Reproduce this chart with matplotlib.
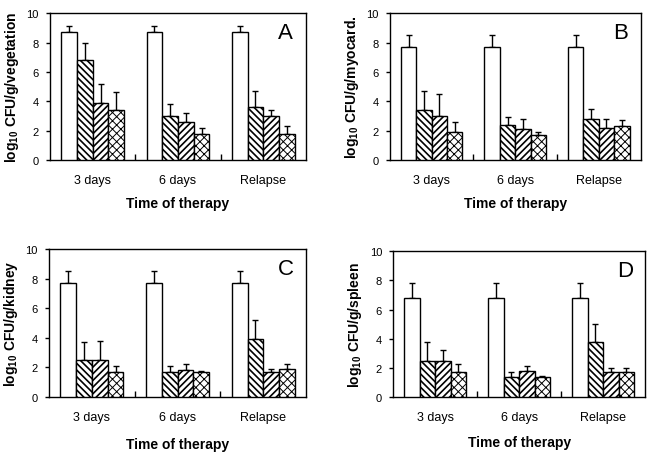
import matplotlib
matplotlib.use("Agg")
import matplotlib.pyplot as plt

plt.rcParams['font.family'] = ['Liberation Sans', 'DejaVu Sans']
plt.rcParams['hatch.linewidth'] = 1.2
plt.rcParams['mathtext.fontset'] = 'custom'
plt.rcParams['mathtext.rm'] = 'Liberation Sans'
plt.rcParams['mathtext.bf'] = 'Liberation Sans:bold'

groups = ["3 days", "6 days", "Relapse"]
hatches = [None, '\\\\\\\\\\', '/////', 'xxxx']
hatch_lw = [1.2, 1.2, 1.2, 0.7]

# rows: untreated control, treatment 1, treatment 2, treatment 3
A_means = [[8.7, 8.7, 8.7], [6.8, 3.0, 3.6], [3.9, 2.6, 3.0], [3.4, 1.8, 1.8]]
A_errs = [[0.4, 0.4, 0.4], [1.2, 0.8, 1.1], [1.3, 0.6, 0.4], [1.2, 0.4, 0.5]]
B_means = [[7.7, 7.7, 7.7], [3.4, 2.4, 2.8], [3.0, 2.1, 2.2], [1.9, 1.7, 2.3]]
B_errs = [[0.8, 0.8, 0.8], [1.3, 0.5, 0.7], [1.5, 0.7, 0.6], [0.7, 0.2, 0.4]]
C_means = [[7.7, 7.7, 7.7], [2.5, 1.7, 3.9], [2.5, 1.8, 1.7], [1.7, 1.7, 1.9]]
C_errs = [[0.8, 0.8, 0.8], [1.2, 0.4, 1.3], [1.3, 0.4, 0.2], [0.4, 0.05, 0.3]]
D_means = [[6.8, 6.8, 6.8], [2.5, 1.4, 3.8], [2.5, 1.8, 1.7], [1.7, 1.4, 1.7]]
D_errs = [[1.0, 1.0, 1.0], [1.3, 0.3, 1.2], [0.7, 0.3, 0.3], [0.6, 0.05, 0.3]]

panels = [
    ("A", "vegetation", A_means, A_errs, [0.0766, 0.647, 0.392, 0.322], 7),
    ("B", "myocard.", B_means, B_errs, [0.597, 0.647, 0.384, 0.322], 7),
    ("C", "kidney", C_means, C_errs, [0.075, 0.127, 0.394, 0.325], 10),
    ("D", "spleen", D_means, D_errs, [0.602, 0.127, 0.386, 0.320], 9),
]

width = 0.184


def draw_panel(ax, letter, organ, means, errs, xpad):
    for j in range(4):
        xs = [g + 0.5 + (j - 1.5) * width for g in range(3)]
        bars = ax.bar(xs, means[j], width=width, color='white', edgecolor='black',
                      linewidth=1.0, hatch=hatches[j], zorder=3)
        for b in bars:
            if hasattr(b, 'set_hatch_linewidth'):
                b.set_hatch_linewidth(hatch_lw[j])
        ax.errorbar(xs, means[j], yerr=[[0, 0, 0], errs[j]], fmt='none',
                    ecolor='black', elinewidth=1.0, capsize=2.3, capthick=1.0,
                    zorder=2)
    ax.set_xlim(0, 3)
    ax.set_ylim(0, 10)
    ax.set_yticks(range(0, 11, 2))
    ax.tick_params(axis='y', direction='out', length=3, width=1, labelsize=8, pad=5)
    ax.set_xticks([1, 2])
    ax.set_xticklabels([])
    ax.tick_params(axis='x', which='major', direction='in', length=4, width=1)
    ax.set_xticks([0.5, 1.5, 2.5], minor=True)
    ax.set_xticklabels(groups, minor=True)
    ax.tick_params(axis='x', which='minor', length=0, labelsize=9, pad=10)
    for s in ax.spines.values():
        s.set_linewidth(1.0)
    ax.set_xlabel("Time of therapy", fontsize=10, fontweight='bold', labelpad=xpad)
    ax.set_ylabel(r"log$_{\mathbf{10}}$ CFU/g/" + organ, fontsize=10,
                  fontweight='bold', labelpad=4)
    ax.text(0.92, 0.87, letter, transform=ax.transAxes, fontsize=16,
            ha='center', va='center')


fig = plt.figure(figsize=(6.53, 4.56), dpi=100)
for letter, organ, means, errs, pos, xpad in panels:
    ax = fig.add_axes(pos)
    draw_panel(ax, letter, organ, means, errs, xpad)

fig.savefig("out.png", dpi=100)
